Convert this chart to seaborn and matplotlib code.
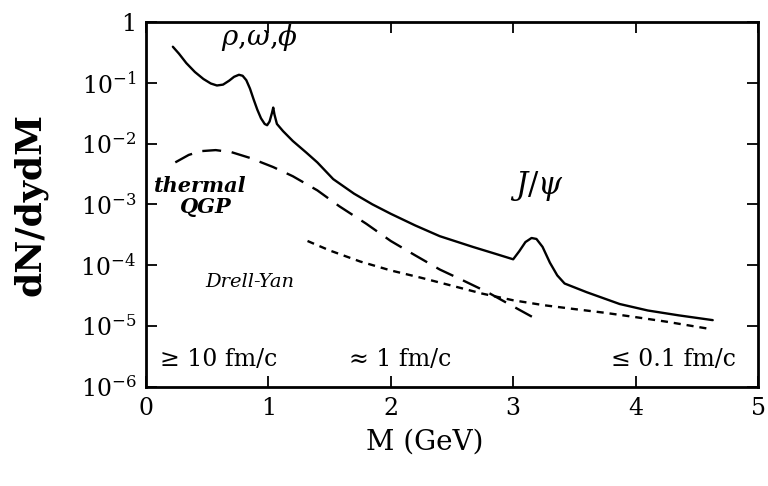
import numpy as np
import pandas as pd
import seaborn as sns
import matplotlib
matplotlib.use("Agg")
import matplotlib.pyplot as plt
from matplotlib.ticker import FixedLocator, FixedFormatter, NullLocator

# total dilepton spectrum (solid)
m_total = [0.22, 0.27, 0.33, 0.40, 0.47, 0.53, 0.58, 0.63, 0.68, 0.72, 0.76,
           0.79, 0.82, 0.85, 0.88, 0.91, 0.94, 0.97, 0.99, 1.01, 1.03, 1.04,
           1.05, 1.07, 1.12, 1.20, 1.31, 1.40, 1.53, 1.70, 1.85, 2.00, 2.20,
           2.40, 2.67, 2.85, 3.00, 3.05, 3.10, 3.15, 3.19, 3.24, 3.30, 3.36,
           3.42, 3.60, 3.87, 4.10, 4.35, 4.63]
dn_total = [0.39, 0.30, 0.21, 0.15, 0.115, 0.097, 0.090, 0.093, 0.108, 0.125,
            0.135, 0.13, 0.11, 0.080, 0.053, 0.036, 0.026, 0.021, 0.020,
            0.023, 0.032, 0.039, 0.030, 0.021, 0.016, 0.011, 0.0071, 0.0049,
            0.0026, 0.0015, 0.0010, 0.00070, 0.00045, 0.00030, 0.00020,
            0.000155, 0.000125, 0.00017, 0.00024, 0.00028, 0.00027, 0.00020,
            0.00011, 0.000068, 0.000050, 0.000036, 0.000023, 0.000018,
            0.000015, 0.0000125]

# thermal QGP (dashed)
m_qgp = [0.24, 0.35, 0.45, 0.57, 0.70, 0.85, 1.04, 1.20, 1.40, 1.58, 1.80,
         2.00, 2.20, 2.40, 2.60, 2.79, 3.00, 3.22]
dn_qgp = [0.0049, 0.0065, 0.0075, 0.0078, 0.0072, 0.0058, 0.0041, 0.0029,
          0.0017, 0.00093, 0.00048, 0.00025, 0.000145, 0.000085, 0.000055,
          0.000036, 0.000021, 0.000012]

# Drell-Yan (dotted)
m_dy = [1.32, 1.50, 1.75, 2.00, 2.25, 2.50, 2.75, 3.00, 3.25, 3.50, 3.75,
        4.00, 4.25, 4.60]
dn_dy = [0.00025, 0.000175, 0.000115, 0.000082, 0.000062, 0.000046,
         0.000034, 0.0000265, 0.000022, 0.000019, 0.0000165, 0.000014,
         0.0000118, 0.0000090]

y_ticks = [1e-6, 1e-5, 1e-4, 1e-3, 1e-2, 1e-1, 1]
y_labels = [r"$10^{-6}$", r"$10^{-5}$", r"$10^{-4}$", r"$10^{-3}$",
            r"$10^{-2}$", r"$10^{-1}$", "1"]

sns.set_style("ticks")
plt.rcParams["font.family"] = ["DejaVu Serif"]
plt.rcParams["mathtext.fontset"] = "dejavuserif"
plt.rcParams["mathtext.default"] = "regular"
plt.rcParams["text.color"] = "black"
plt.rcParams["axes.labelcolor"] = "black"
plt.rcParams["xtick.color"] = "black"
plt.rcParams["ytick.color"] = "black"

fig = plt.figure(figsize=(7.68, 4.86), dpi=100)
ax = fig.add_axes([0.190, 0.204, 0.797, 0.751])

sns.lineplot(x=m_total, y=dn_total, ax=ax, color="black", lw=1.7, sort=False)
sns.lineplot(x=m_qgp, y=dn_qgp, ax=ax, color="black", lw=1.7, sort=False)
ax.lines[-1].set_dashes([8, 4.5])
sns.lineplot(x=m_dy, y=dn_dy, ax=ax, color="black", lw=1.7, sort=False)
ax.lines[-1].set_dashes([3, 2.5])

ax.set_yscale("log")
ax.set_xlim(0, 5)
ax.set_ylim(1e-6, 1)
ax.yaxis.set_major_locator(FixedLocator(y_ticks))
ax.yaxis.set_major_formatter(FixedFormatter(y_labels))
ax.yaxis.set_minor_locator(NullLocator())
ax.set_xticks([0, 1, 2, 3, 4, 5])
ax.tick_params(direction="in", length=8, width=1.3, labelsize=17,
               top=True, right=True, pad=7)
for s in ax.spines.values():
    s.set_linewidth(2)
    s.set_color("black")

ax.set_xlabel("M (GeV)", fontsize=20)
ax.xaxis.set_label_coords(0.455, -0.115)
ax.set_ylabel("dN/dydM", fontsize=26, fontweight="bold")
ax.yaxis.set_label_coords(-0.16, 0.5)

ax.text(0.93, 0.55, r"$\mathit{\rho{,}\omega{,}\phi}$", fontsize=20,
        ha="center", va="center")
ax.text(0.44, 2.0e-3, "thermal", fontsize=15, fontweight="bold",
        fontstyle="italic", ha="center", va="center")
ax.text(0.49, 8.9e-4, "QGP", fontsize=15, fontweight="bold",
        fontstyle="italic", ha="center", va="center")
ax.text(3.19, 2.0e-3, r"$\mathit{J/\psi}$", fontsize=22, ha="center",
        va="center")
ax.text(0.85, 5.2e-5, "Drell-Yan", fontsize=14, fontstyle="italic",
        ha="center", va="center")
ax.text(0.59, 2.8e-6, "≥ 10 fm/c", fontsize=17, ha="center", va="center")
ax.text(2.08, 2.8e-6, "≈ 1 fm/c", fontsize=17, ha="center", va="center")
ax.text(4.31, 2.8e-6, "≤ 0.1 fm/c", fontsize=17, ha="center", va="center")

fig.savefig("out.png", dpi=100)
